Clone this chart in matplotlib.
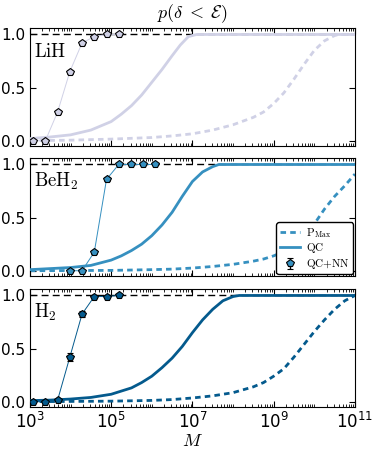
import numpy as np
import matplotlib
matplotlib.use("Agg")
import matplotlib.pyplot as plt
from matplotlib.ticker import FixedLocator, LogLocator, NullFormatter

plt.rcParams['mathtext.fontset'] = 'cm'
plt.rcParams['font.family'] = 'DejaVu Sans'

# ---- data ----
molecules = ['$\\mathrm{LiH}$', '$\\mathrm{BeH_2}$', '$\\mathrm{H_2}$']
colors = ['#d0d1e6', '#3690c0', '#045a8d']

# QC+NN points (M values, probability, error)
nn_M_lih = [1.2e3, 2.4e3, 4.8e3, 9.6e3, 1.92e4, 3.84e4, 7.68e4, 1.536e5]
nn_p_lih = [0.0, 0.0, 0.27, 0.65, 0.92, 0.98, 1.0, 1.0]
nn_e_lih = [0.01, 0.01, 0.02, 0.02, 0.015, 0.01, 0.0, 0.0]

nn_M_beh2 = [9.6e3, 1.92e4, 3.84e4, 7.68e4, 1.536e5, 3.072e5, 6.144e5, 1.2288e6]
nn_p_beh2 = [0.0, 0.0, 0.175, 0.86, 1.0, 1.0, 1.0, 1.0]
nn_e_beh2 = [0.01, 0.01, 0.02, 0.02, 0.0, 0.0, 0.0, 0.0]

nn_M_h2 = [1.2e3, 2.4e3, 4.8e3, 9.6e3, 1.92e4, 3.84e4, 7.68e4, 1.536e5]
nn_p_h2 = [0.0, 0.0, 0.015, 0.42, 0.825, 0.99, 0.99, 1.0]
nn_e_h2 = [0.01, 0.01, 0.01, 0.035, 0.025, 0.01, 0.01, 0.0]

# QC curves (log10 M, probability)
qc_logM_lih = [3.0, 3.5, 4.0, 4.5, 5.0, 5.25, 5.5, 5.75, 6.0, 6.25, 6.5, 6.7, 6.9, 7.1, 11.0]
qc_p_lih = [0.02, 0.035, 0.055, 0.1, 0.18, 0.25, 0.33, 0.43, 0.55, 0.67, 0.8, 0.9, 0.98, 1.0, 1.0]

qc_logM_beh2 = [3.0, 3.5, 4.0, 4.5, 5.0, 5.25, 5.5, 5.75, 6.0, 6.25, 6.5, 6.75, 7.0, 7.25, 7.5, 7.65, 11.0]
qc_p_beh2 = [0.01, 0.02, 0.03, 0.05, 0.1, 0.14, 0.19, 0.25, 0.33, 0.43, 0.55, 0.7, 0.84, 0.93, 0.98, 1.0, 1.0]

qc_logM_h2 = [3.0, 3.5, 4.0, 4.5, 5.0, 5.5, 5.75, 6.0, 6.25, 6.5, 6.75, 7.0, 7.25, 7.5, 7.75, 8.0, 8.15, 11.0]
qc_p_h2 = [0.01, 0.015, 0.025, 0.04, 0.07, 0.13, 0.18, 0.24, 0.32, 0.41, 0.52, 0.65, 0.77, 0.87, 0.95, 0.99, 1.0, 1.0]

# PMax curves (log10 M, probability)
pm_logM_lih = [3.0, 4.0, 5.0, 6.0, 6.5, 7.0, 7.5, 8.0, 8.5, 8.75, 9.0, 9.25, 9.5, 9.75, 10.0, 10.25, 10.5, 10.6, 11.0]
pm_p_lih = [0.0, 0.005, 0.015, 0.03, 0.045, 0.065, 0.1, 0.15, 0.22, 0.27, 0.35, 0.45, 0.58, 0.72, 0.85, 0.94, 0.99, 1.0, 1.0]

pm_logM_beh2 = [3.0, 5.0, 6.0, 6.5, 7.0, 7.5, 8.0, 8.5, 8.75, 9.0, 9.25, 9.5, 9.75, 10.0, 10.25, 10.5, 10.75, 11.0]
pm_p_beh2 = [0.0, 0.003, 0.01, 0.015, 0.025, 0.04, 0.06, 0.09, 0.11, 0.14, 0.18, 0.24, 0.33, 0.44, 0.58, 0.7, 0.8, 0.91]

pm_logM_h2 = [3.0, 5.0, 6.0, 6.5, 7.0, 7.5, 8.0, 8.5, 8.75, 9.0, 9.25, 9.5, 9.75, 10.0, 10.25, 10.5, 10.75, 11.0]
pm_p_h2 = [0.0, 0.005, 0.012, 0.02, 0.035, 0.055, 0.085, 0.14, 0.18, 0.24, 0.31, 0.42, 0.54, 0.66, 0.77, 0.87, 0.95, 1.0]

nn_M = [nn_M_lih, nn_M_beh2, nn_M_h2]
nn_p = [nn_p_lih, nn_p_beh2, nn_p_h2]
nn_e = [nn_e_lih, nn_e_beh2, nn_e_h2]
qc_logM = [qc_logM_lih, qc_logM_beh2, qc_logM_h2]
qc_p = [qc_p_lih, qc_p_beh2, qc_p_h2]
pm_logM = [pm_logM_lih, pm_logM_beh2, pm_logM_h2]
pm_p = [pm_p_lih, pm_p_beh2, pm_p_h2]

fig = plt.figure(figsize=(3.74, 4.57), dpi=100)
left, width = 0.080, 0.869
bottoms = [0.6805, 0.396, 0.1094]
height = 0.258

for i in range(3):
    ax = fig.add_axes([left, bottoms[i], width, height])
    c = colors[i]
    ax.axhline(1.0, color='k', ls='--', lw=1.0, dashes=(5, 3), zorder=1)
    ax.plot(10 ** np.array(pm_logM[i]), pm_p[i], color=c, lw=2, ls='--',
            dashes=(2, 1.5), label='$\\mathrm{P_{Max}}$', zorder=2)
    ax.plot(10 ** np.array(qc_logM[i]), qc_p[i], color=c, lw=2,
            label='$\\mathrm{QC}$', zorder=3)
    ax.plot(nn_M[i], nn_p[i], color=c, lw=0.7, zorder=4)
    ax.errorbar(nn_M[i], nn_p[i], yerr=nn_e[i], fmt='p', color=c, mfc=c,
                mec='k', mew=0.8, ms=6, ecolor='k', elinewidth=1, capsize=2.5,
                label='$\\mathrm{QC{+}NN}$', zorder=5)

    ax.set_xscale('log')
    ax.set_xlim(1e3, 1e11)
    ax.set_ylim(-0.05, 1.06)
    ax.xaxis.set_major_locator(FixedLocator([1e3, 1e5, 1e7, 1e9, 1e11]))
    ax.xaxis.set_minor_locator(LogLocator(base=10, subs=np.arange(1, 10), numticks=100))
    ax.xaxis.set_minor_formatter(NullFormatter())
    ax.set_yticks([0.0, 0.5, 1.0])
    ax.tick_params(which='both', direction='in', top=True, right=True)
    ax.tick_params(axis='y', labelsize=11)
    ax.tick_params(axis='x', labelsize=12)
    ax.tick_params(which='major', length=4)
    ax.tick_params(which='minor', length=2)
    if i < 2:
        ax.tick_params(axis='x', labelbottom=False)
    else:
        ax.set_xlabel('$M$', fontsize=13, labelpad=0)
    ax.text(0.012, 0.80, molecules[i], transform=ax.transAxes, fontsize=13.5,
            ha='left', va='center')
    if i == 0:
        ax.set_title('$p(\\delta\\;<\\;\\mathcal{E})$', fontsize=13, pad=7)
    if i == 1:
        ax.legend(loc='lower right', fontsize=8, fancybox=True, framealpha=1,
                  edgecolor='k', handlelength=1.8, handletextpad=0.6,
                  borderaxespad=0.15, borderpad=0.3, labelspacing=0.15)

fig.savefig('out.png', dpi=100)
